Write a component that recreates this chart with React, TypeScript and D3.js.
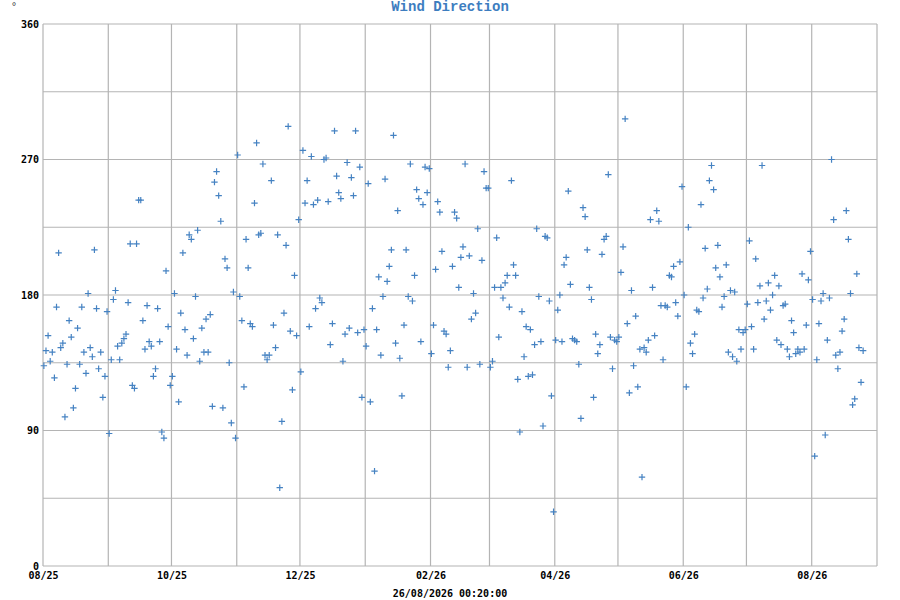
import { useEffect, useRef } from 'react';

import * as d3 from 'd3';

const width = 900;
const height = 600;
const [mt, mr, mb, ml] = [24, 23, 34, 43];

const startDate = '2025-08-01';
const endDate = '2026-09-01';
const title = 'Wind Direction';
const updated = '26/08/2026 00:20:00';
const unit = '°';

// one reading per day, month by month
const aug25 = [133, 143, 153, 136, 142, 125, 172, 208, 145, 148, 99, 134, 163, 152, 105, 118, 158, 134, 172, 142, 128, 181, 145, 139, 210, 171, 131, 142, 112, 126, 169];
const sep25 = [88, 137, 177, 183, 146, 137, 148, 151, 154, 175, 214, 120, 118, 214, 243, 243, 163, 144, 173, 149, 146, 126, 131, 171, 149, 89, 85, 196, 159, 120];
const oct25 = [126, 181, 144, 109, 168, 208, 157, 140, 220, 217, 151, 179, 223, 136, 158, 142, 164, 142, 167, 106, 255, 262, 246, 229, 105, 204, 198, 135, 95, 182, 85];
const nov25 = [273, 179, 163, 119, 217, 198, 161, 159, 241, 281, 220, 221, 267, 140, 137, 140, 256, 160, 145, 220, 52, 96, 168, 213, 292, 156, 117, 193, 153, 230];
const dec25 = [129, 276, 241, 256, 159, 272, 240, 171, 243, 178, 175, 270, 271, 242, 147, 161, 289, 259, 248, 244, 136, 154, 268, 158, 258, 246, 289, 155, 265, 112, 157];
const jan26 = [146, 254, 109, 171, 63, 157, 192, 140, 179, 257, 189, 199, 210, 286, 148, 236, 138, 113, 160, 210, 179, 267, 176, 193, 250, 244, 149, 240, 265, 248, 264];
const feb26 = [141, 160, 197, 242, 235, 209, 156, 154, 132, 143, 199, 235, 231, 185, 205, 212, 267, 132, 206, 164, 181, 168, 224, 134, 203, 262, 251, 251];
const mar26 = [132, 136, 185, 218, 152, 185, 178, 188, 193, 172, 256, 200, 193, 124, 89, 169, 139, 159, 126, 157, 127, 147, 224, 179, 149, 93, 219, 218, 176, 113, 36];
const apr26 = [150, 170, 180, 149, 200, 205, 249, 187, 151, 150, 149, 134, 98, 238, 232, 210, 185, 177, 112, 154, 141, 147, 207, 217, 219, 260, 152, 131, 150, 149];
const may26 = [152, 195, 212, 297, 161, 115, 183, 133, 166, 119, 144, 59, 145, 142, 150, 230, 185, 153, 236, 229, 173, 137, 173, 172, 193, 192, 199, 175, 166, 202, 252];
const jun26 = [180, 119, 225, 148, 141, 154, 170, 169, 240, 178, 211, 184, 256, 266, 250, 198, 213, 192, 172, 179, 200, 142, 183, 139, 182, 136, 157, 144, 155, 157];
const jul26 = [174, 216, 159, 144, 204, 175, 186, 266, 164, 176, 188, 170, 180, 193, 150, 186, 147, 173, 174, 144, 139, 163, 155, 141, 144, 142, 194, 144, 160, 190, 209];
const aug26 = [177, 73, 137, 161, 176, 181, 87, 150, 178, 270, 230, 140, 131, 142, 156, 164, 236, 217, 181, 107, 111, 194, 145, 122, 143];

const months = [aug25, sep25, oct25, nov25, dec25, jan26, feb26, mar26, apr26, may26, jun26, jul26, aug26];

const yLabels = [0, 90, 180, 270, 360];

const gridColor = '#b4b4b4';
const markColor = '#4582c2';
const monoFont = '"DejaVu Sans Mono", monospace';

export default function App() {
    const chart = useRef<SVGSVGElement>(null);

    useEffect(() => {
        const svg = d3.select(chart.current);
        svg.selectAll('*').remove();

        const parse = d3.utcParse('%Y-%m-%d');
        const start = parse(startDate)!;
        const end = parse(endDate)!;

        const data = months.flatMap((values, m) =>
            values.map((value, d) => ({
                date: d3.utcHour.offset(d3.utcDay.offset(d3.utcMonth.offset(start, m), d), 10),
                value
            }))
        );

        const xScale = d3.scaleUtc().domain([start, end]).range([ml, width - mr]);
        const yScale = d3.scaleLinear().domain([0, 360]).range([height - mb, mt]);

        // grid
        const grid = svg.append('g').attr('stroke', gridColor).attr('stroke-width', 1.2);
        grid.selectAll('line.h')
            .data(d3.range(0, 361, 45))
            .enter()
            .append('line')
            .attr('x1', ml)
            .attr('x2', width - mr)
            .attr('y1', (d) => yScale(d))
            .attr('y2', (d) => yScale(d));
        grid.selectAll('line.v')
            .data([...d3.utcMonth.range(start, end), end])
            .enter()
            .append('line')
            .attr('x1', (d) => xScale(d))
            .attr('x2', (d) => xScale(d))
            .attr('y1', mt)
            .attr('y2', height - mb);

        // axes
        const xAxis = d3
            .axisBottom(xScale)
            .tickValues(d3.utcMonth.range(start, end, 2))
            .tickFormat((d) => d3.utcFormat('%m/%y')(d as Date))
            .tickSize(0)
            .tickPadding(6);
        svg.append('g')
            .attr('transform', `translate(0, ${height - mb})`)
            .call(xAxis)
            .call((g) => g.select('.domain').remove())
            .call((g) =>
                g.selectAll('text').attr('font-family', monoFont).attr('font-size', 10).attr('font-weight', 'bold').attr('fill', '#000')
            );

        const yAxis = d3
            .axisLeft(yScale)
            .tickValues(yLabels)
            .tickFormat((d) => `${d}`)
            .tickSize(0)
            .tickPadding(4);
        svg.append('g')
            .attr('transform', `translate(${ml}, 0)`)
            .call(yAxis)
            .call((g) => g.select('.domain').remove())
            .call((g) =>
                g.selectAll('text').attr('font-family', monoFont).attr('font-size', 10).attr('font-weight', 'bold').attr('fill', '#000')
            );

        // points
        svg.append('g')
            .selectAll('path')
            .data(data)
            .enter()
            .append('path')
            .attr('transform', (d) => `translate(${xScale(d.date)}, ${yScale(d.value)})`)
            .attr('d', 'M-3.2,0H3.2M0,-3.2V3.2')
            .attr('stroke', markColor)
            .attr('stroke-width', 1.2)
            .attr('fill', 'none');

        // texts
        svg.append('text')
            .attr('x', width / 2)
            .attr('y', 11)
            .attr('text-anchor', 'middle')
            .attr('font-family', '"Liberation Mono", monospace')
            .attr('font-weight', 'bold')
            .attr('font-size', 14)
            .attr('fill', '#3d7dbf')
            .text(title);

        svg.append('text')
            .attr('x', 11)
            .attr('y', 10)
            .attr('font-family', monoFont)
            .attr('font-size', 10)
            .attr('fill', '#444')
            .text(unit);

        svg.append('text')
            .attr('x', width / 2)
            .attr('y', 597)
            .attr('text-anchor', 'middle')
            .attr('font-family', monoFont)
            .attr('font-weight', 'bold')
            .attr('font-size', 10)
            .attr('fill', '#000')
            .text(updated);
    }, []);

    return (
        <svg
            ref={chart}
            width={width}
            height={height}
            style={{ position: 'absolute', left: 0, top: 0, background: '#fff' }}
        />
    );
}
